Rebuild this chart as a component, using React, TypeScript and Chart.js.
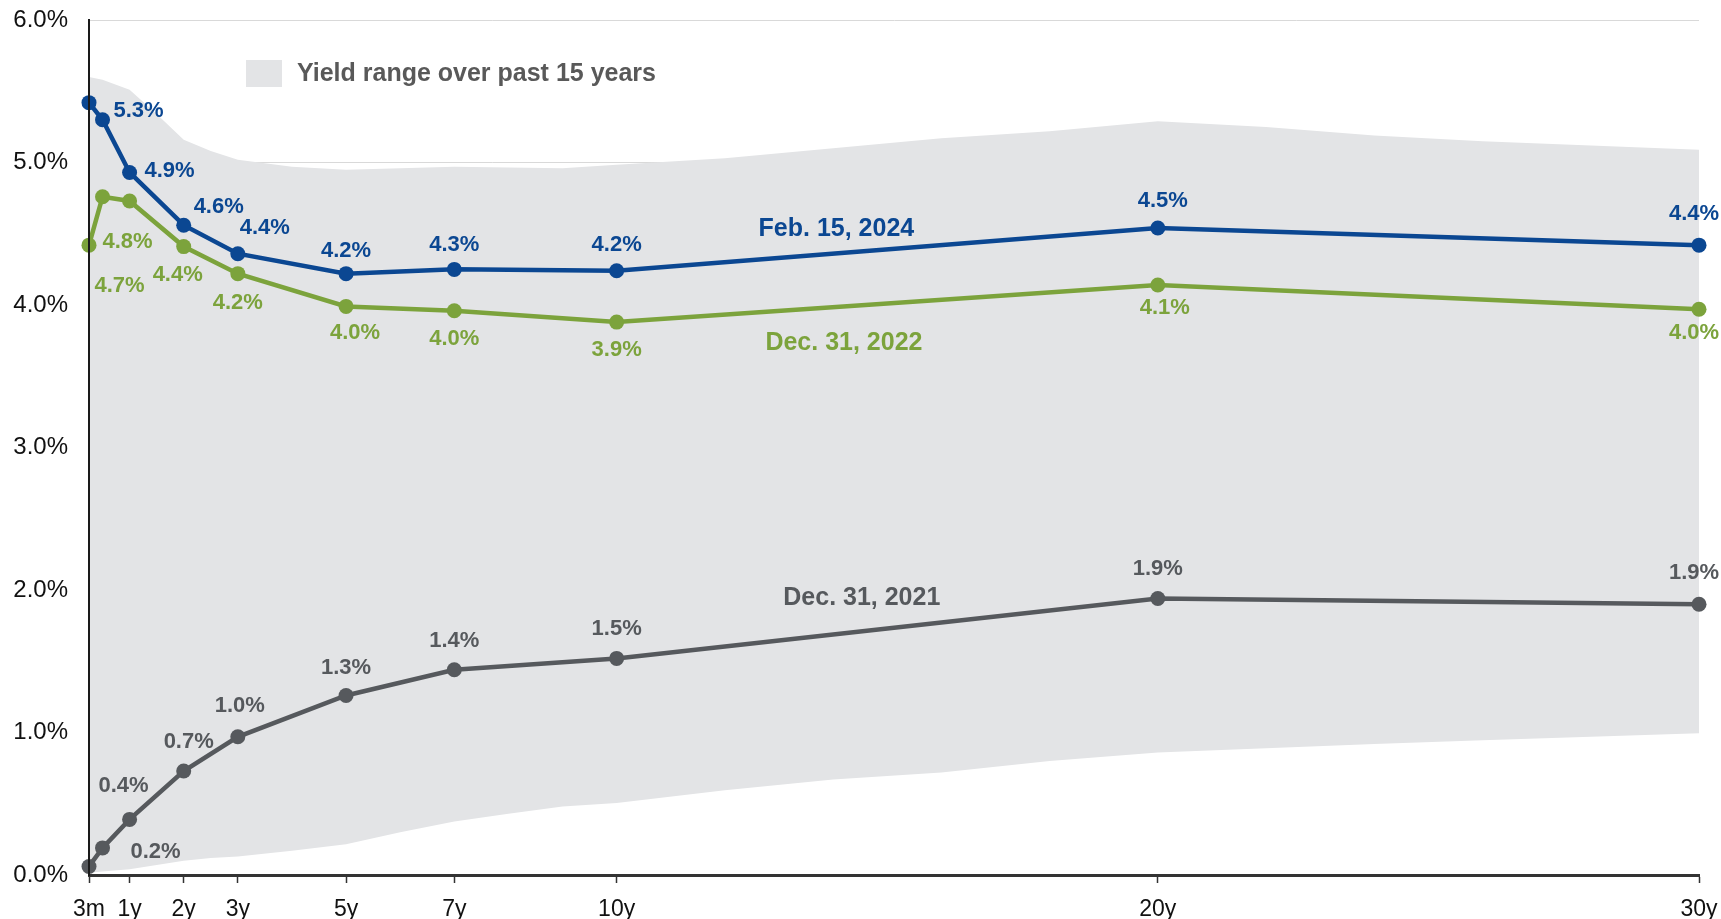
import React, { useEffect, useRef } from 'react';
import { Chart, registerables } from 'chart.js';

Chart.register(...registerables);

// ---------- data ----------
const maturities = [0.25, 0.5, 1, 2, 3, 5, 7, 10, 20, 30];
const tickValues = [0.25, 1, 2, 3, 5, 7, 10, 20, 30];
const tickLabels = ['3m', '1y', '2y', '3y', '5y', '7y', '10y', '20y', '30y'];

const feb2024 = [5.42, 5.30, 4.93, 4.56, 4.36, 4.22, 4.25, 4.24, 4.54, 4.42];
const dec2022 = [4.42, 4.76, 4.73, 4.41, 4.22, 3.99, 3.96, 3.88, 4.14, 3.97];
const dec2021 = [0.06, 0.19, 0.39, 0.73, 0.97, 1.26, 1.44, 1.52, 1.94, 1.90];

const bandX = [0.25, 0.5, 1, 1.5, 2, 2.5, 3, 4, 5, 6, 7, 8, 9, 10, 12, 14, 16, 18, 20, 22, 24, 26, 28, 30];
const bandHigh = [5.60, 5.58, 5.51, 5.34, 5.16, 5.08, 5.02, 4.97, 4.95, 4.96, 4.97, 4.965, 4.96, 4.985, 5.03, 5.10, 5.17, 5.22, 5.29, 5.25, 5.19, 5.15, 5.12, 5.09];
const bandLow = [0.015, 0.025, 0.04, 0.07, 0.10, 0.12, 0.13, 0.17, 0.215, 0.30, 0.375, 0.43, 0.48, 0.505, 0.595, 0.67, 0.72, 0.80, 0.86, 0.89, 0.92, 0.945, 0.97, 0.995];

const seriesNames = ['Feb. 15, 2024', 'Dec. 31, 2022', 'Dec. 31, 2021'];
const seriesNameX = [14.06, 14.2, 14.53];
const seriesNameY = [4.53, 3.73, 1.94];
const legendText = 'Yield range over past 15 years';

// ---------- styles ----------
const BLUE = '#0b4792';
const GREEN = '#7ca33c';
const GRAY = '#56595d';
const BAND = '#e3e4e6';
const FONT = '"Liberation Sans", Arial, sans-serif';

// label offsets (px) relative to each point; null = no label
const labelOffsets: (number[] | null)[][] = [
  [null, [36, -9], [40, -2], [35, -18], [27, -26], [0, -23], [0, -24], [0, -26], [5, -27], [-5, -31]],
  [null, [25, 45], [-10, 85], [-6, 28], [0, 29], [9, 27], [0, 28], [0, 28], [7, 23], [-5, 24]],
  [null, [53, 4], [-6, -33], [5, -29], [2, -31], [0, -28], [0, -29], [0, -29], [0, -30], [-5, -31]],
];

const seriesValues = [feb2024, dec2022, dec2021];
const seriesColors = [BLUE, GREEN, GRAY];

const overlayPlugin = {
  id: 'overlay',
  afterDatasetsDraw(chart: any) {
    const ctx = chart.ctx;
    const xs = chart.scales.x;
    const ys = chart.scales.y;
    const area = chart.chartArea;
    ctx.save();
    // redraw the y axis line on top of the band
    ctx.strokeStyle = '#1a1a1a';
    ctx.lineWidth = 2;
    ctx.beginPath();
    ctx.moveTo(area.left, area.top);
    ctx.lineTo(area.left, area.bottom);
    ctx.stroke();
    // point value labels
    ctx.textAlign = 'center';
    ctx.textBaseline = 'middle';
    ctx.font = `bold 22px ${FONT}`;
    seriesValues.forEach((vals, si) => {
      ctx.fillStyle = seriesColors[si];
      vals.forEach((v, i) => {
        const off = labelOffsets[si][i];
        if (!off) return;
        const px = xs.getPixelForValue(maturities[i]);
        const py = ys.getPixelForValue(v);
        ctx.fillText(v.toFixed(1) + '%', px + off[0], py + off[1]);
      });
    });
    // series names
    ctx.font = `bold 25px ${FONT}`;
    seriesNames.forEach((n, si) => {
      ctx.fillStyle = seriesColors[si];
      ctx.fillText(n, xs.getPixelForValue(seriesNameX[si]), ys.getPixelForValue(seriesNameY[si]));
    });
    // legend
    ctx.fillStyle = BAND;
    ctx.fillRect(246, 60, 36, 27);
    ctx.fillStyle = '#595959';
    ctx.textAlign = 'left';
    ctx.font = `bold 25px ${FONT}`;
    ctx.fillText(legendText, 297, 74);
    ctx.restore();
  },
};

export default function App() {
  const ref = useRef<HTMLCanvasElement | null>(null);

  useEffect(() => {
    if (!ref.current) return;
    const lineDs = (label: string, vals: number[], color: string) => ({
      label,
      data: maturities.map((x, i) => ({ x, y: vals[i] })),
      borderColor: color,
      backgroundColor: color,
      borderWidth: 4.5,
      pointRadius: 7.5,
      pointBorderWidth: 0,
      pointBackgroundColor: color,
      fill: false,
      tension: 0,
      clip: false as any,
      order: 1,
    });

    const chart = new Chart(ref.current, {
      type: 'line',
      data: {
        datasets: [
          lineDs(seriesNames[0], feb2024, BLUE),
          lineDs(seriesNames[1], dec2022, GREEN),
          lineDs(seriesNames[2], dec2021, GRAY),
          {
            label: 'bandLow',
            data: bandX.map((x, i) => ({ x, y: bandLow[i] })),
            borderWidth: 0,
            pointRadius: 0,
            fill: false,
            order: 10,
          } as any,
          {
            label: 'bandHigh',
            data: bandX.map((x, i) => ({ x, y: bandHigh[i] })),
            borderWidth: 0,
            borderColor: BAND,
            pointRadius: 0,
            backgroundColor: BAND,
            fill: '-1',
            order: 9,
          } as any,
        ],
      },
      options: {
        animation: false,
        responsive: false,
        devicePixelRatio: 1,
        layout: { padding: { top: 20, right: 22, left: 0, bottom: 0 } },
        plugins: {
          legend: { display: false },
          tooltip: { enabled: false },
        },
        scales: {
          x: {
            type: 'linear',
            min: 0.25,
            max: 30,
            afterBuildTicks: (scale: any) => {
              scale.ticks = tickValues.map((v) => ({ value: v }));
            },
            afterFit: (scale: any) => {
              scale.height = 44;
              scale.paddingLeft = 0;
              scale.paddingRight = 0;
            },
            ticks: {
              autoSkip: false,
              maxRotation: 0,
              padding: 13,
              color: '#111',
              font: { family: FONT, size: 23 },
              callback: (v: any) => {
                const idx = tickValues.indexOf(Number(v));
                return idx >= 0 ? tickLabels[idx] : '';
              },
            },
            grid: {
              drawOnChartArea: false,
              drawTicks: true,
              tickLength: 8,
              tickColor: '#333',
              tickWidth: 1.5,
            },
            border: { display: true, color: '#333', width: 3 },
          },
          y: {
            type: 'linear',
            min: 0,
            max: 6,
            afterFit: (scale: any) => {
              scale.width = 89;
              scale.paddingTop = 0;
              scale.paddingBottom = 0;
            },
            ticks: {
              stepSize: 1,
              padding: 21,
              color: '#111',
              font: { family: FONT, size: 24 },
              callback: (v: any) => Number(v).toFixed(1) + '%',
            },
            grid: {
              color: '#d9d9d9',
              lineWidth: 1,
              drawTicks: false,
            },
            border: { display: true, color: '#1a1a1a', width: 2 },
          },
        },
      } as any,
      plugins: [overlayPlugin],
    });
    return () => chart.destroy();
  }, []);

  return (
    <div style={{ position: 'fixed', left: 0, top: 0, width: 1721, height: 919, background: '#fff' }}>
      <canvas ref={ref} width={1721} height={919} style={{ display: 'block' }} />
    </div>
  );
}
